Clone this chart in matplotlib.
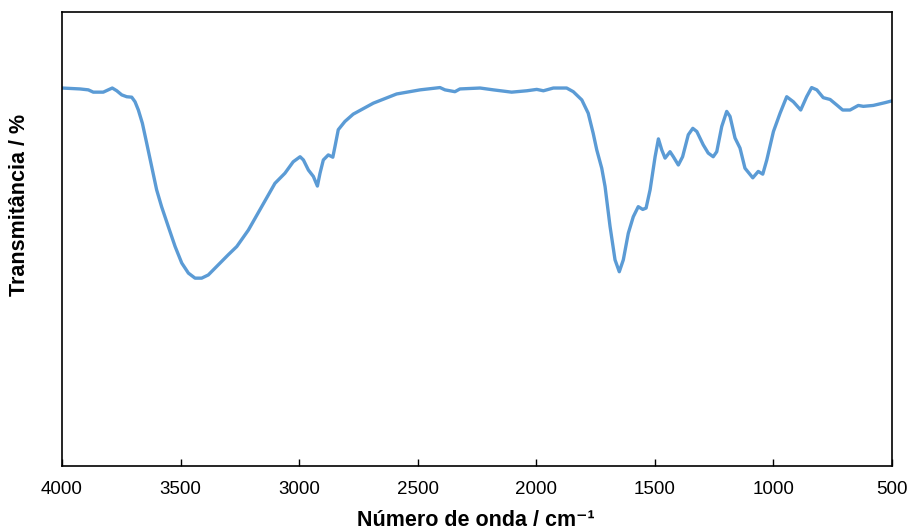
import matplotlib
matplotlib.use("Agg")
import matplotlib.pyplot as plt

plt.rcParams['font.family'] = ['Liberation Sans', 'DejaVu Sans']

# FTIR spectrum (wavenumber in cm-1, transmittance in arbitrary %)
wavenumber = [4000, 3924, 3889, 3868, 3826, 3805, 3788, 3769, 3748, 3727, 3706, 3692,
              3678, 3661, 3643, 3622, 3601, 3580, 3552, 3523, 3495, 3467, 3439, 3411,
              3383, 3341, 3299, 3263, 3214, 3158, 3102, 3060, 3025, 2996, 2982, 2961,
              2940, 2923, 2912, 2898, 2877, 2858, 2849, 2835, 2807, 2772, 2687, 2589,
              2490, 2406, 2385, 2343, 2322, 2237, 2181, 2104, 2040, 1998, 1970, 1928,
              1900, 1872, 1844, 1808, 1781, 1760, 1745, 1724, 1710, 1689, 1668, 1650,
              1633, 1612, 1591, 1570, 1551, 1537, 1520, 1499, 1485, 1471, 1457, 1436,
              1422, 1401, 1383, 1359, 1340, 1323, 1296, 1275, 1254, 1239, 1218, 1197,
              1183, 1162, 1141, 1120, 1087, 1064, 1045, 1028, 1000, 972, 944, 916,
              885, 860, 839, 817, 790, 761, 733, 708, 677, 642, 621, 579, 530, 500]
transmittance = [82.5, 82.3, 82.1, 81.6, 81.6, 82.1, 82.5, 81.9, 81.0, 80.6, 80.5, 79.5,
                 77.7, 74.8, 70.5, 65.4, 60.3, 56.6, 52.3, 47.9, 44.3, 42.1, 41.0, 41.0,
                 41.7, 43.9, 46.1, 47.9, 51.5, 56.6, 61.7, 63.9, 66.4, 67.5, 66.8, 64.6,
                 63.2, 61.1, 63.9, 66.8, 67.9, 67.4, 69.7, 73.4, 75.2, 76.8, 79.2, 81.2,
                 82.1, 82.6, 82.1, 81.7, 82.3, 82.5, 82.1, 81.6, 81.9, 82.2, 81.9, 82.5,
                 82.5, 82.5, 81.7, 79.9, 77.0, 72.6, 69.0, 65.0, 61.0, 52.3, 45.0, 42.4,
                 45.0, 50.8, 54.4, 56.6, 56.0, 56.3, 60.3, 67.5, 71.4, 69.0, 67.2, 68.6,
                 67.5, 65.7, 67.5, 72.3, 73.7, 73.0, 70.1, 68.3, 67.5, 68.6, 74.1, 77.4,
                 76.3, 71.6, 69.4, 65.0, 62.9, 64.3, 63.7, 66.8, 73.0, 77.0, 80.6, 79.5,
                 77.7, 80.6, 82.6, 82.1, 80.4, 80.0, 78.8, 77.7, 77.7, 78.7, 78.5, 78.7,
                 79.3, 79.7]
xticks = [4000, 3500, 3000, 2500, 2000, 1500, 1000, 500]

fig = plt.figure(figsize=(9.09, 5.30), dpi=100)
ax = fig.add_axes([0.0682, 0.1208, 0.9131, 0.8566])

ax.plot(wavenumber, transmittance, color='#5B9BD5', linewidth=2.4,
        solid_joinstyle='round', solid_capstyle='round')

ax.set_xlim(4000, 500)
ax.set_ylim(0, 99.1)
ax.set_xticks(xticks)
ax.set_yticks([])
ax.tick_params(axis='x', direction='in', length=5, width=1, labelsize=13.5, pad=11)
for s in ax.spines.values():
    s.set_linewidth(1.2)

ax.set_xlabel('Número de onda / cm⁻¹', fontsize=15.5, fontweight='bold',
              family=['Liberation Sans', 'DejaVu Sans'])
ax.xaxis.label.set_va('center')
ax.xaxis.set_label_coords(0.499, -0.119)
ax.set_ylabel('Transmitância / %', fontsize=15.5, fontweight='bold')
ax.yaxis.label.set_va('center')
ax.yaxis.set_label_coords(-0.0506, 0.575)

fig.savefig('out.png', dpi=100)
